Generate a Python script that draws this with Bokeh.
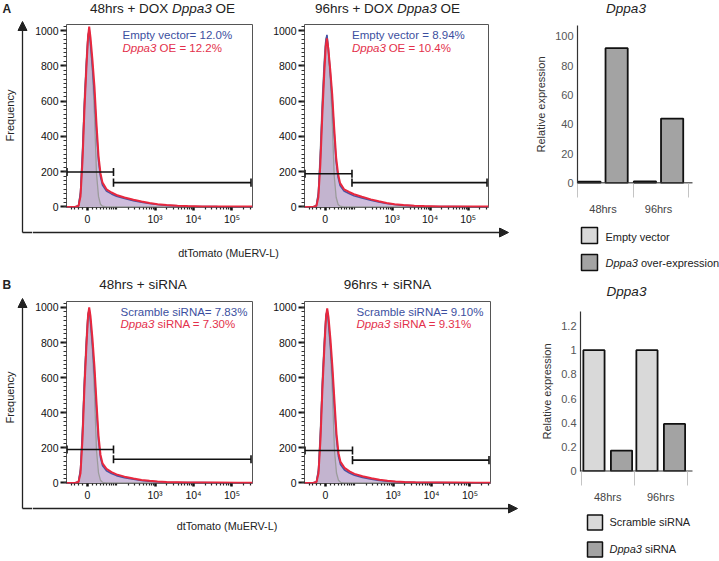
import math
import numpy as np
from bokeh.plotting import figure
from bokeh.models import Range1d, FixedTicker, Arrow, NormalHead
from bokeh.layouts import row, column
from bokeh.embed import file_html
from bokeh.resources import INLINE
from bokeh.core.properties import value

# ---------------- data ----------------
# display channel of the biexponential dtTomato axis (0 = zero fluorescence)
chan = [-21, -12, -9, -7, -5, -3, -1, 0.5, 1.7, 3, 5, 7, 9, 11, 13, 15, 19, 24, 29,
        37, 46, 54, 62, 70, 79, 90, 100, 115, 130, 150, 165]

# panel A, 48hrs + DOX
a48_ctrl = [0, 1, 8, 90, 340, 640, 860, 975, 1000, 910, 760, 520, 190, 60, 15, 4, 1, 0, 0,
            0, 0, 0, 0, 0, 0, 0, 0, 0, 0, 0, 0]
a48_empty = [0, 1, 7, 80, 300, 590, 820, 965, 1005, 930, 790, 630, 430, 265, 172, 124, 90, 74, 61,
             48, 36, 27, 20, 14, 9, 6, 4, 3, 2, 1, 1]
a48_oe = [0, 1, 5, 60, 260, 560, 800, 960, 1022, 960, 830, 680, 470, 290, 190, 138, 100, 82, 68,
          54, 41, 31, 23, 16, 11, 7, 5, 3, 2, 2, 2]
# panel A, 96hrs + DOX
a96_ctrl = [0, 1, 8, 85, 330, 620, 840, 950, 970, 880, 730, 500, 180, 55, 14, 4, 1, 0, 0,
            0, 0, 0, 0, 0, 0, 0, 0, 0, 0, 0, 0]
a96_empty = [0, 1, 7, 75, 280, 560, 800, 935, 975, 905, 765, 610, 420, 258, 168, 122, 90, 76, 64,
             51, 38, 28, 20, 14, 9, 6, 4, 3, 2, 1, 1]
a96_oe = [0, 1, 5, 55, 240, 520, 760, 910, 955, 900, 780, 640, 450, 280, 185, 135, 100, 85, 72,
          58, 43, 32, 23, 16, 11, 7, 5, 3, 2, 2, 2]
# panel B, 48hrs + siRNA
b48_ctrl = [0, 1, 8, 85, 330, 630, 850, 965, 990, 900, 750, 510, 185, 58, 15, 4, 1, 0, 0,
            0, 0, 0, 0, 0, 0, 0, 0, 0, 0, 0, 0]
b48_scr = [0, 1, 7, 75, 290, 580, 810, 955, 990, 925, 785, 620, 420, 245, 145, 100, 70, 54, 42,
           30, 21, 14, 10, 7, 4, 3, 2, 2, 1, 1, 1]
b48_si = [0, 1, 5, 55, 250, 550, 790, 950, 1000, 950, 820, 660, 460, 270, 160, 112, 80, 62, 49,
          36, 25, 17, 12, 8, 5, 4, 3, 2, 2, 1, 1]
# panel B, 96hrs + siRNA
b96_ctrl = [0, 1, 8, 85, 330, 625, 845, 960, 985, 895, 745, 505, 182, 57, 15, 4, 1, 0, 0,
            0, 0, 0, 0, 0, 0, 0, 0, 0, 0, 0, 0]
b96_scr = [0, 1, 7, 72, 285, 575, 805, 950, 985, 920, 780, 615, 425, 252, 150, 105, 74, 57, 44,
           32, 22, 15, 10, 7, 5, 3, 2, 2, 1, 1, 1]
b96_si = [0, 1, 5, 55, 250, 545, 785, 945, 995, 945, 815, 655, 465, 280, 170, 120, 86, 66, 52,
          38, 27, 18, 13, 9, 6, 4, 3, 2, 2, 1, 1]

# gates: [split channel, left gate level, right gate level]
a48_gate = [26, 198, 138]
a96_gate = [27, 188, 138]
b48_gate = [26, 191, 135]
b96_gate = [27, 185, 130]

# gate percentages
a48_pct = ["Empty vector= 12.0%", "OE = 12.2%"]
a96_pct = ["Empty vector = 8.94%", "OE = 10.4%"]
b48_pct = ["Scramble siRNA= 7.83%", "siRNA = 7.30%"]
b96_pct = ["Scramble siRNA= 9.10%", "siRNA = 9.31%"]

# histogram axes
x_tick_values = [0, 1000, 10000, 100000]
x_tick_labels = ["0", "10\u00b3", "10\u2074", "10\u2075"]
x_minor_values = ([-40, -30, -20, -10] + list(range(10, 100, 10)) + list(range(100, 1000, 100))
                  + list(range(2000, 10000, 1000)) + list(range(20000, 100000, 10000)) + [200000, 300000])
y_hist_ticks = [0, 200, 400, 600, 800, 1000]

# qPCR bars
bar_cats = ["48hrs", "96hrs"]
a_empty = [1.0, 1.2]
a_oe = [92.0, 44.0]
b_scramble = [1.0, 1.0]
b_sirna = [0.17, 0.39]
a_yticks = [0, 20, 40, 60, 80, 100]
a_ylabels = ["0", "20", "40", "60", "80", "100"]
b_yticks = [0, 0.2, 0.4, 0.6, 0.8, 1.0, 1.2]
b_ylabels = ["0", "0.2", "0.4", "0.6", "0.8", "1", "1.2"]

# ---------------- style ----------------
FONT = "Liberation Sans"
INK = "#222222"
BLUE_T = "#3c4fa0"
RED_T = "#e3304b"
BLUE_L = "#4852a3"
RED_L = "#e8283e"
FILL = "#6450b0"
GRAY_L = "#9b9b9b"
LIGHT = "#d9d9d9"
DARK = "#a3a3a3"
SY = 0.995


def sy(v):
    return int(round(v * SY))


AW = {}
for ch, w in zip(" +=%.()-", [278, 584, 584, 889, 278, 333, 333, 333]):
    AW[ch] = w
for ch in "0123456789":
    AW[ch] = 556
for ch, w in zip("ABCDEFGHIJKLMNOPQRSTUVWXYZ",
                 [667, 667, 722, 722, 667, 611, 778, 722, 278, 500, 667, 556, 833, 722, 778, 667,
                  778, 722, 667, 611, 722, 667, 944, 667, 667, 611]):
    AW[ch] = w
for ch, w in zip("abcdefghijklmnopqrstuvwxyz",
                 [556, 556, 500, 556, 556, 278, 556, 556, 222, 222, 500, 222, 833, 556, 556, 556,
                  556, 333, 500, 278, 556, 500, 722, 500, 500, 500]):
    AW[ch] = w


def tw(s, size):
    return sum(AW.get(c, 556) for c in s) * size / 1000.0


def put_text(p, x, y, s, size, color=INK, style="normal", align="left", angle=0.0):
    p.text(x=[x], y=[y], text=[s], text_font=value(FONT), text_font_size=f"{size}px",
           text_color=color, text_font_style=style, text_align=align,
           text_baseline="middle", angle=angle)


def put_rich(p, x, y, pieces, size, color=INK, align="left"):
    widths = [tw(s, size) for s, _ in pieces]
    space = tw(" ", size)
    total = sum(widths) + space * (len(pieces) - 1)
    cx = x - (total / 2.0 if align == "center" else 0.0)
    for (s, st), w in zip(pieces, widths):
        put_text(p, cx, y, s, size, color, st)
        cx += w + space


def strip(x0, x1, y0, y1, left=0):
    # canvas-coordinate figure; 'left' = frame inset shared with the plot above it
    w, h = x1 - x0, sy(y1) - sy(y0)
    p = figure(width=w, height=h, x_range=Range1d(left, w), y_range=Range1d(0, h),
               x_axis_type=None, y_axis_type=None, min_border=0, min_border_left=left,
               toolbar_location=None, tools="", output_backend="svg")
    p.outline_line_color = None
    return p, (lambda x: x - x0), (lambda y: h - (sy(y) - sy(y0)))


def tr(v):
    return 16.72 * math.asinh(v / 35.3)


XLO, XHI = -21.0, 165.0
YLO, YHI = -3.0, 1034.0
x_major = [tr(v) for v in x_tick_values]
x_minor = [tr(v) for v in x_minor_values]
CAP = 23


def hist(cx0, cx1, cy0, cy1, fx0, fx1, fy0, fy1, ctrl, s1, s2, gate, pct, name2, tx, ty):
    p = figure(width=cx1 - cx0, height=sy(cy1) - sy(cy0),
               x_range=Range1d(XLO, XHI), y_range=Range1d(YLO, YHI),
               min_border_left=fx0 - cx0, min_border_right=cx1 - fx1,
               min_border_top=sy(fy0) - sy(cy0), min_border_bottom=sy(cy1) - sy(fy1),
               toolbar_location=None, tools="", output_backend="svg")
    p.grid.visible = False
    p.outline_line_color = "#555555"
    p.outline_line_width = 1
    p.varea(x=chan, y1=0, y2=s1, fill_color=FILL, fill_alpha=0.32)
    p.varea(x=chan, y1=0, y2=s2, fill_color=RED_L, fill_alpha=0.06)
    p.varea(x=chan, y1=0, y2=ctrl, fill_color="#7a7a7a", fill_alpha=0.13)
    p.line(chan, ctrl, line_color=GRAY_L, line_width=1.3)
    p.line(chan, s1, line_color=BLUE_L, line_width=1.6)
    p.line(chan, s2, line_color=RED_L, line_width=2)
    split, lh, rh = gate
    lo, hi = XLO + 0.5, XHI - 1.5
    p.segment(x0=[lo, split], y0=[lh, rh], x1=[split, hi], y1=[lh, rh],
              line_color="#111111", line_width=1.6)
    p.segment(x0=[lo, split, split, hi], y0=[lh - CAP, lh - CAP, rh - CAP, rh - CAP],
              x1=[lo, split, split, hi], y1=[lh + CAP, lh + CAP, rh + CAP, rh + CAP],
              line_color="#111111", line_width=1.6)
    put_text(p, tx, ty[0], pct[0], 11.5, BLUE_T)
    put_rich(p, tx, ty[1], [(name2, "italic"), (pct[1], "normal")], 11.5, RED_T)

    xa = p.xaxis[0]
    xa.ticker = FixedTicker(ticks=x_major, minor_ticks=x_minor)
    xa.major_label_overrides = {t: l for t, l in zip(x_major, x_tick_labels)}
    xa.axis_line_color = None
    xa.major_tick_out = 3
    xa.major_tick_in = 0
    xa.major_tick_line_width = 2.5
    xa.major_tick_line_color = "#111111"
    xa.minor_tick_out = 2
    xa.minor_tick_in = 0
    xa.minor_tick_line_width = 1.2
    xa.minor_tick_line_color = "#222222"
    xa.major_label_standoff = 2
    xa.major_label_text_font = FONT
    xa.major_label_text_font_size = "10.5px"
    xa.major_label_text_color = "#111111"

    ya = p.yaxis[0]
    ya.ticker = FixedTicker(ticks=y_hist_ticks, minor_ticks=list(range(0, 1026, 25)))
    ya.axis_line_color = None
    ya.major_tick_out = 6
    ya.major_tick_in = 0
    ya.major_tick_line_width = 2
    ya.major_tick_line_color = "#111111"
    ya.minor_tick_out = 3
    ya.minor_tick_in = 0
    ya.minor_tick_line_color = "#333333"
    ya.major_label_standoff = 2
    ya.major_label_text_font = FONT
    ya.major_label_text_font_size = "10.5px"
    ya.major_label_text_color = "#111111"
    return p


def bars(cx0, cx1, cy0, cy1, fx0, fy0, fy1, x0, unit, axis_end, yr, v1, v2, gc, off, yt, yl):
    # frame runs to the right canvas edge; x-axis baseline drawn to axis_end only
    xr = (x0, x0 + (cx1 - fx0) / unit)
    p = figure(width=cx1 - cx0, height=sy(cy1) - sy(cy0),
               x_range=Range1d(*xr), y_range=Range1d(*yr),
               min_border_left=fx0 - cx0, min_border_right=0,
               min_border_top=sy(fy0) - sy(cy0), min_border_bottom=sy(cy1) - sy(fy1),
               toolbar_location=None, tools="", output_backend="svg")
    p.grid.visible = False
    p.outline_line_color = None
    idx = np.arange(len(bar_cats))
    p.vbar(x=idx + gc - off, top=v1, bottom=0, width=0.40, fill_color=LIGHT,
           line_color="#111111", line_width=1.8)
    p.vbar(x=idx + gc + off, top=v2, bottom=0, width=0.40, fill_color=DARK,
           line_color="#111111", line_width=1.8)
    p.segment(x0=[x0], y0=[0], x1=[axis_end], y1=[0], line_color="#333333", line_width=1.5)
    ticks = [float(i + gc) for i in idx]
    xa = p.xaxis[0]
    xa.ticker = FixedTicker(ticks=ticks, minor_ticks=[float(i) for i in range(len(bar_cats) + 1)])
    xa.major_label_overrides = dict(zip(ticks, bar_cats))
    xa.major_tick_out = 0
    xa.major_tick_in = 0
    xa.major_tick_line_color = None
    xa.minor_tick_out = 14
    xa.minor_tick_in = 0
    xa.minor_tick_line_color = "#c4c4c4"
    xa.minor_tick_line_width = 1
    xa.axis_line_color = None
    xa.major_label_standoff = 5
    xa.major_label_text_font = FONT
    xa.major_label_text_font_size = "11px"
    xa.major_label_text_color = "#444444"
    ya = p.yaxis[0]
    ya.ticker = FixedTicker(ticks=yt, minor_ticks=[])
    ya.major_label_overrides = dict(zip(yt, yl))
    ya.major_tick_out = 0
    ya.major_tick_in = 0
    ya.major_tick_line_color = None
    ya.minor_tick_line_color = None
    ya.axis_line_color = "#333333"
    ya.axis_line_width = 1.2
    ya.major_label_standoff = 4
    ya.major_label_text_font = FONT
    ya.major_label_text_font_size = "11px"
    ya.major_label_text_color = "#555555"
    ya.axis_label = "Relative expression"
    ya.axis_label_text_font = FONT
    ya.axis_label_text_font_size = "11px"
    ya.axis_label_text_font_style = "normal"
    ya.axis_label_text_color = "#333333"
    ya.axis_label_standoff = 5
    return p


def arrow(p, x0, y0, x1, y1):
    p.add_layout(Arrow(end=NormalHead(size=9, fill_color=INK, line_color=INK, line_width=1),
                       x_start=x0, y_start=y0, x_end=x1, y_end=y1,
                       line_color=INK, line_width=1.3))


W = 719

# ---------------- row A ----------------
leftA, lx, ly = strip(0, 32, 0, 278)
put_text(leftA, 2, ly(8), "A", 12, INK, "bold")
put_text(leftA, 9, ly(116), "Frequency", 11, INK, align="center", angle=math.pi / 2)
arrow(leftA, 22, ly(233), 22, ly(21))
leftA.segment(x0=[22], y0=[ly(233)], x1=[32], y1=[ly(233)], line_color=INK, line_width=1.3)

topA, lx, ly = strip(32, 520, 0, 22)
put_rich(topA, lx(162), ly(8), [("48hrs + DOX", "normal"), ("Dppa3", "italic"), ("OE", "normal")],
         13.5, INK, "center")
put_rich(topA, lx(387), ly(8), [("96hrs + DOX", "normal"), ("Dppa3", "italic"), ("OE", "normal")],
         13.5, INK, "center")

h1A = hist(32, 270, 22, 228, 66, 252, 24, 209, a48_ctrl, a48_empty, a48_oe, a48_gate,
           a48_pct, "Dppa3", 35, [977, 899])
h2A = hist(270, 520, 22, 228, 302, 488, 24, 209, a96_ctrl, a96_empty, a96_oe, a96_gate,
           a96_pct, "Dppa3", 27, [977, 899])

botA, lx, ly = strip(32, 520, 228, 278)
arrow(botA, 0, ly(233), lx(508), ly(233))
put_text(botA, lx(228), ly(253), "dtTomato (MuERV-L)", 10.8, INK, align="center")

BLA = 577 - 520
barTopA, lx, ly = strip(520, W, 0, 22, BLA)
put_text(barTopA, lx(625.5), ly(8), "Dppa3", 13.5, INK, "italic", align="center")
barA = bars(520, W, 22, 218, 577, 25, 199, 0.0, 55.5, 2.072, (-0.3, 107.5),
            a_empty, a_oe, 0.46, 0.245, a_yticks, a_ylabels)
legA, lx, ly = strip(520, W, 218, 278, BLA)
legA.rect(x=[lx(589), lx(589)], y=[ly(236), ly(263.5)], width=16, height=16,
          fill_color=[LIGHT, DARK], line_color="#111111", line_width=1.5)
put_text(legA, lx(605), ly(237), "Empty vector", 11, INK)
put_rich(legA, lx(605), ly(263), [("Dppa3", "italic"), ("over-expression", "normal")], 11, INK)

rowA = row(leftA, column(topA, row(h1A, h2A), botA), column(barTopA, barA, legA))

# ---------------- row B ----------------
leftB, lx, ly = strip(0, 32, 278, 561)
put_text(leftB, 2, ly(285), "B", 12, INK, "bold")
put_text(leftB, 9, ly(399), "Frequency", 11, INK, align="center", angle=math.pi / 2)
arrow(leftB, 22, ly(511), 22, ly(300))
leftB.segment(x0=[22], y0=[ly(511)], x1=[32], y1=[ly(511)], line_color=INK, line_width=1.3)

topB, lx, ly = strip(32, 520, 278, 301)
put_text(topB, lx(142.5), ly(285.5), "48hrs + siRNA", 13.5, INK, align="center")
put_text(topB, lx(387), ly(285.5), "96hrs + siRNA", 13.5, INK, align="center")

h1B = hist(32, 270, 301, 506, 66, 252, 303, 488, b48_ctrl, b48_scr, b48_si, b48_gate,
           b48_pct, "Dppa3", 33, [976, 904])
h2B = hist(270, 520, 301, 506, 304, 490, 303, 488, b96_ctrl, b96_scr, b96_si, b96_gate,
           b96_pct, "Dppa3", 31, [976, 904])

botB, lx, ly = strip(32, 520, 506, 561)
arrow(botB, 0, ly(511), lx(517), ly(511))
put_text(botB, lx(226.5), ly(528), "dtTomato (MuERV-L)", 10.8, INK, align="center")

BLB = 580 - 520
barTopB, lx, ly = strip(520, W, 278, 302, BLB)
put_text(barTopB, lx(626), ly(292), "Dppa3", 13.5, INK, "italic", align="center")
barB = bars(520, W, 302, 508, 580, 313, 487, -0.019, 53.0, 2.094, (-0.003, 1.32),
            b_scramble, b_sirna, 0.495, 0.26, b_yticks, b_ylabels)
legB, lx, ly = strip(520, W, 508, 561, BLB)
legB.rect(x=[lx(594.5), lx(594.5)], y=[ly(524.5), ly(551.5)], width=15, height=15,
          fill_color=[LIGHT, DARK], line_color="#111111", line_width=1.5)
put_text(legB, lx(609), ly(524), "Scramble siRNA", 11, INK)
put_rich(legB, lx(609), ly(551), [("Dppa3", "italic"), ("siRNA", "normal")], 11, INK)

rowB = row(leftB, column(topB, row(h1B, h2B), botB), column(barTopB, barB, legB))

layout = column(rowA, rowB)
open("out.html", "w").write(file_html(layout, INLINE))
